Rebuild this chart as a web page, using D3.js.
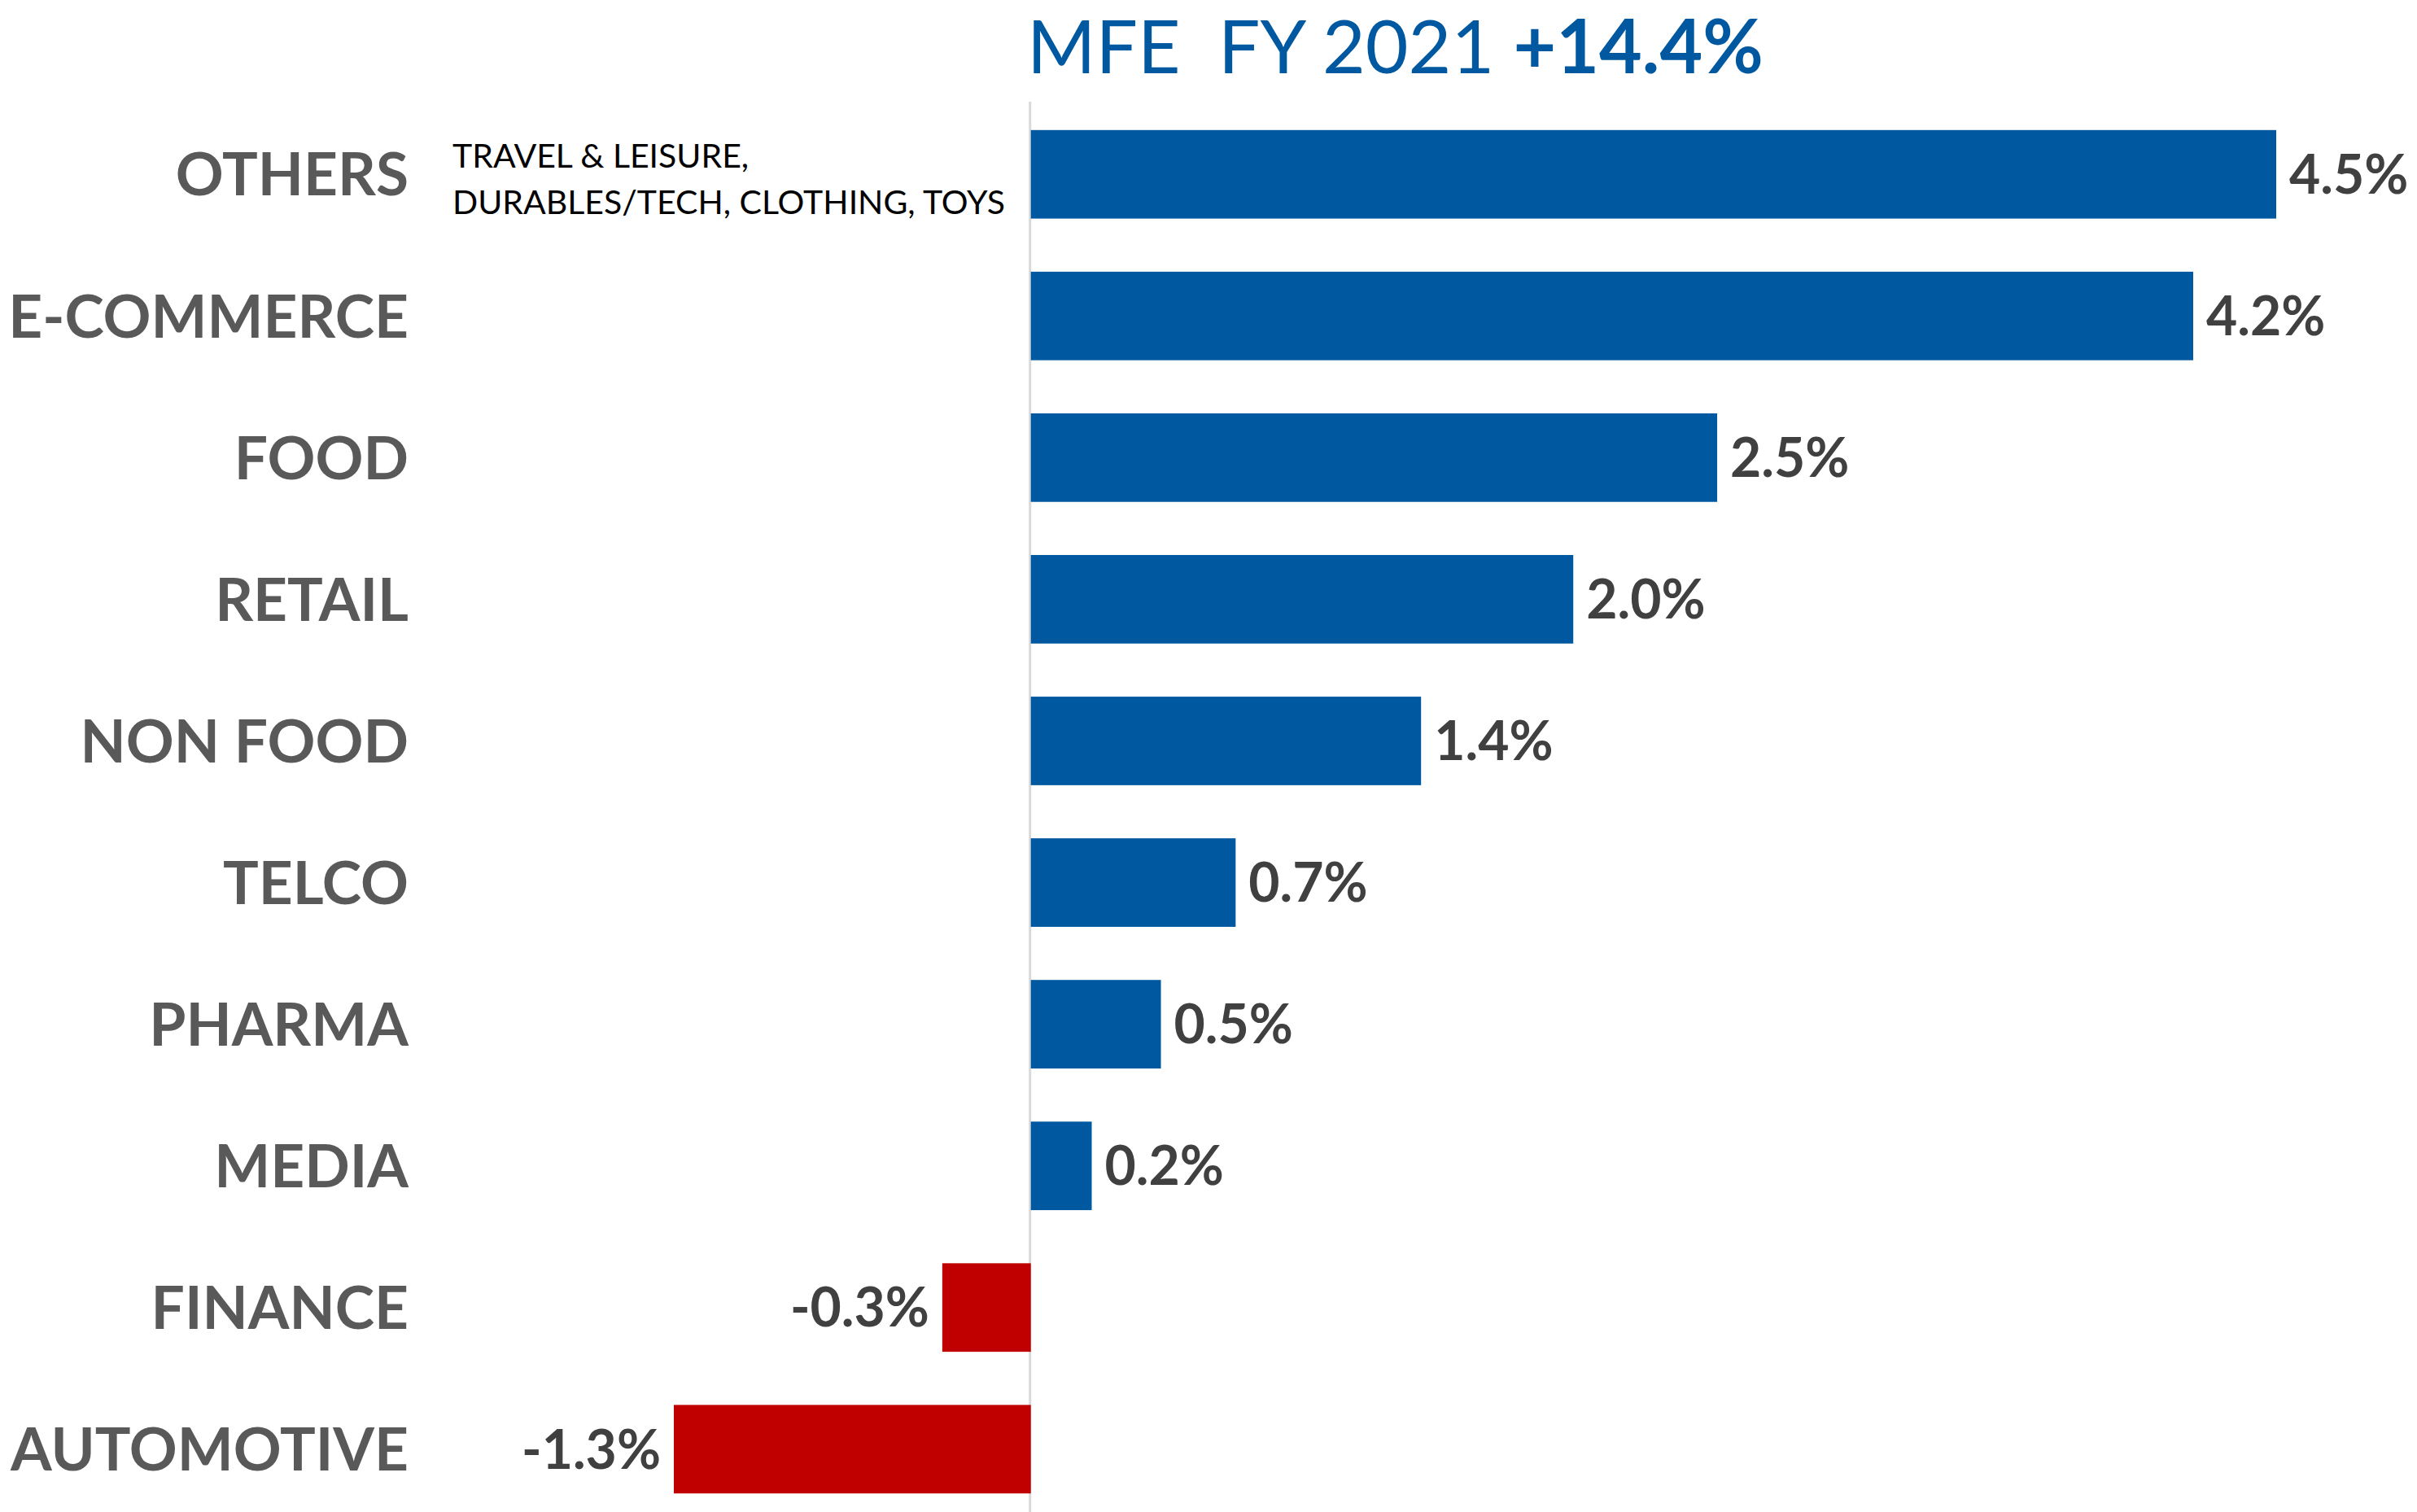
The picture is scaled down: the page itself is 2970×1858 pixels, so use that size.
<!DOCTYPE html>
<html>
<head>
<meta charset="utf-8">
<script src="https://cdnjs.cloudflare.com/ajax/libs/d3/7.8.5/d3.min.js"></script>
<style>
  body { margin: 0; background: #fff; }
  svg { font-family: Lato, "Open Sans", sans-serif; }
</style>
</head>
<body>
<div id="chart"></div>
<script>
// categories top to bottom, values in % (bar lengths)
const categories = ["OTHERS", "E-COMMERCE", "FOOD", "RETAIL", "NON FOOD", "TELCO", "PHARMA", "MEDIA", "FINANCE", "AUTOMOTIVE"];
const values = [4.5, 4.2, 2.48, 1.96, 1.41, 0.74, 0.47, 0.22, -0.32, -1.29];
const othersNote = ["TRAVEL & LEISURE,", "DURABLES/TECH, CLOTHING, TOYS"];
const titleText = "MFE  FY 2021 ";
const titleTotal = "+14.4%";

const width = 2970,
  height = 1858;

const blue = "#0059A0",
  red = "#C00000";

const data = categories.map((c, i) => ({ key: c, value: values[i] }));

const svg = d3
  .select("#chart")
  .append("svg")
  .attr("width", width)
  .attr("height", height);

// x scale: 1% ~ 340px, zero at 1267
const x = d3.scaleLinear().domain([-1.29, 4.5]).range([828, 2797]);

const y = d3
  .scaleBand()
  .domain(categories)
  .range([125, 1870])
  .paddingInner(0.375)
  .paddingOuter(0.2);

// zero line
svg
  .append("line")
  .attr("x1", x(0) - 1)
  .attr("x2", x(0) - 1)
  .attr("y1", 125)
  .attr("y2", height)
  .attr("stroke", "#d9d9d9")
  .attr("stroke-width", 3);

// bars
svg
  .selectAll(".bar")
  .data(data)
  .enter()
  .append("rect")
  .attr("class", "bar")
  .attr("x", (d) => x(Math.min(0, d.value)))
  .attr("y", (d) => y(d.key))
  .attr("width", (d) => Math.abs(x(d.value) - x(0)))
  .attr("height", y.bandwidth())
  .attr("fill", (d) => (d.value < 0 ? red : blue));

// value labels (plain hyphen for negatives, like the original)
svg
  .selectAll(".val")
  .data(data)
  .enter()
  .append("text")
  .attr("class", "val")
  .attr("x", (d) => (d.value < 0 ? x(d.value) - 16 : x(d.value) + 16))
  .attr("y", (d) => y(d.key) + y.bandwidth() / 2)
  .attr("dy", "0.36em")
  .style("text-anchor", (d) => (d.value < 0 ? "end" : "start"))
  .style("font-size", "66px")
  .style("font-weight", "bold")
  .style("fill", "#404040")
  .text((d) => d.value.toFixed(1) + "%");

// category labels
svg
  .selectAll(".cat")
  .data(data)
  .enter()
  .append("text")
  .attr("class", "cat")
  .attr("x", 502)
  .attr("y", (d) => y(d.key) + y.bandwidth() / 2)
  .attr("dy", "0.36em")
  .style("text-anchor", "end")
  .style("font-size", "73px")
  .style("font-weight", "bold")
  .style("fill", "#595959")
  .text((d) => d.key);

// note next to OTHERS
svg
  .append("g")
  .selectAll("text")
  .data(othersNote)
  .enter()
  .append("text")
  .attr("x", 556)
  .attr("y", (d, i) => 206 + i * 57)
  .style("font-size", "41px")
  .style("fill", "#000")
  .text((d) => d);

// title
const title = svg
  .append("text")
  .attr("x", 1262)
  .attr("y", 90)
  .style("font-size", "91px")
  .style("fill", blue)
  .attr("xml:space", "preserve");
title.append("tspan").text(titleText);
title.append("tspan").style("font-weight", "bold").text(titleTotal);
</script>
</body>
</html>
